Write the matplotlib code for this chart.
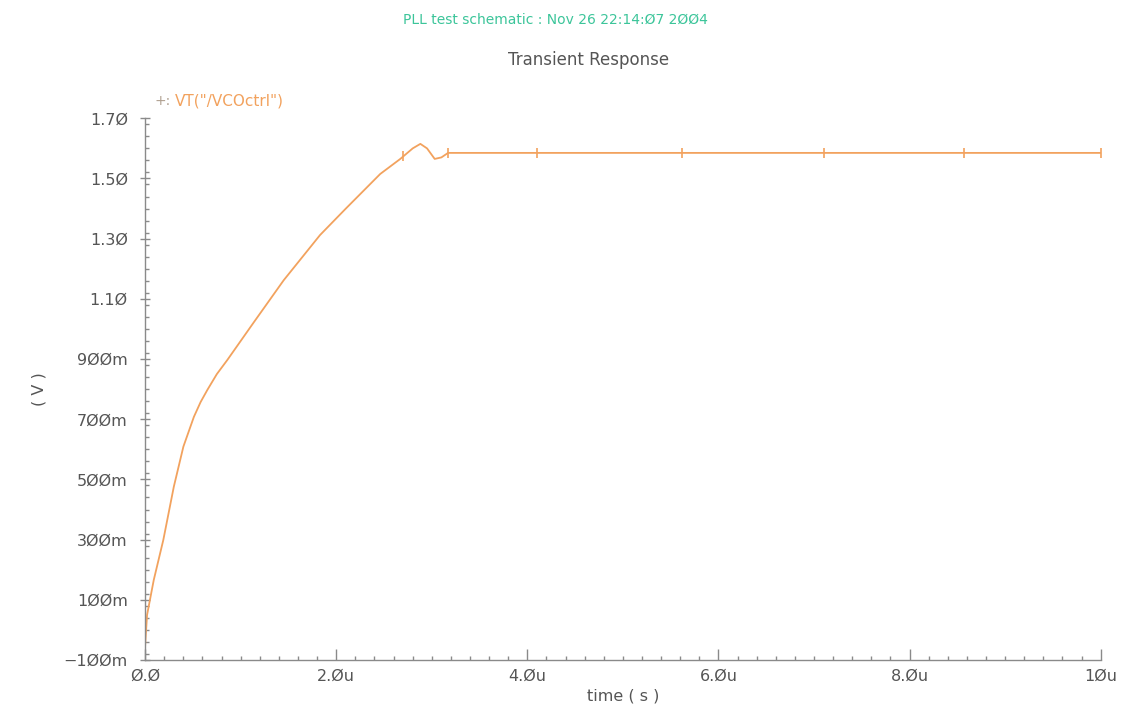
import numpy as np
import matplotlib
matplotlib.use("Agg")
import matplotlib.pyplot as plt
from matplotlib.ticker import MultipleLocator, FixedLocator

# VCO control voltage, time in microseconds, volts
time_us = [0.0, 0.02, 0.09, 0.19, 0.30, 0.40, 0.51, 0.58, 0.65, 0.75, 0.86, 1.13, 1.45,
           1.83, 2.10, 2.46, 2.67, 2.80, 2.88, 2.95, 3.03, 3.10, 3.17,
           4.0, 5.0, 6.0, 7.0, 8.0, 9.0, 10.0]
vco_ctrl = [-0.05, 0.05, 0.166, 0.299, 0.476, 0.609, 0.708, 0.757, 0.797, 0.850, 0.897, 1.019, 1.162,
            1.312, 1.40, 1.515, 1.565, 1.60, 1.615, 1.60, 1.565, 1.57, 1.585,
            1.585, 1.585, 1.585, 1.585, 1.585, 1.585, 1.585]

# waveform symbol positions along the trace
marker_t = [2.70, 3.17, 4.10, 5.62, 7.10, 8.57, 10.0]

y_ticks = [-0.1, 0.1, 0.3, 0.5, 0.7, 0.9, 1.1, 1.3, 1.5, 1.7]
y_labels = ["\u2212100m", "100m", "300m", "500m", "700m", "900m", "1.10", "1.30", "1.50", "1.70"]
x_ticks = [0, 2, 4, 6, 8, 10]
x_labels = ["0.0", "2.0u", "4.0u", "6.0u", "8.0u", "10u"]


def slash(s):
    return s.replace("0", "\u00d8")


LINE = "#f2a25e"
AXIS = "#8a8a8a"
TEXT = "#555555"

fig = plt.figure(figsize=(11.43, 7.10), dpi=100)
ax = fig.add_axes([0.127, 0.0704, 0.836, 0.763])

ax.plot(time_us, vco_ctrl, color=LINE, lw=1.3)
ax.plot(marker_t, np.interp(marker_t, time_us, vco_ctrl), ls="none",
        marker="|", ms=7, mew=1.2, color=LINE)

ax.set_xlim(0, 10)
ax.set_ylim(-0.1, 1.7)
for side in ["top", "right"]:
    ax.spines[side].set_visible(False)
for side in ["left", "bottom"]:
    ax.spines[side].set_color(AXIS)
    ax.spines[side].set_linewidth(1.0)

ax.xaxis.set_major_locator(FixedLocator(x_ticks))
ax.set_xticklabels([slash(s) for s in x_labels])
ax.xaxis.set_minor_locator(MultipleLocator(0.2))
ax.yaxis.set_major_locator(FixedLocator(y_ticks))
ax.set_yticklabels([slash(s) for s in y_labels])
ax.yaxis.set_minor_locator(MultipleLocator(0.04))

ax.tick_params(axis="x", which="major", direction="in", length=8, width=1,
               color=AXIS, labelcolor=TEXT, labelsize=11.5, pad=6)
ax.tick_params(axis="x", which="minor", direction="in", length=3, width=1, color=AXIS)
ax.tick_params(axis="y", which="major", direction="inout", length=7, width=1,
               color=AXIS, labelcolor=TEXT, labelsize=11.5, pad=9)
ax.tick_params(axis="y", which="minor", direction="in", length=3, width=1, color=AXIS)

ax.set_xlabel("time ( s )", color=TEXT, fontsize=11.5, labelpad=4)
ax.set_ylabel("( V )", color=TEXT, fontsize=11.5, labelpad=12)

fig.text(0.486, 0.972, slash("PLL test schematic : Nov 26 22:14:07 2004"),
         ha="center", va="center", color="#3cc59a", fontsize=10)
fig.text(0.515, 0.915, "Transient Response", ha="center", va="center",
         color=TEXT, fontsize=12)
fig.text(0.135, 0.858, "+:", ha="left", va="center", color="#b0a090", fontsize=10)
fig.text(0.153, 0.858, 'VT("/VCOctrl")', ha="left", va="center", color=LINE, fontsize=11)

fig.savefig("out.png", dpi=100)
